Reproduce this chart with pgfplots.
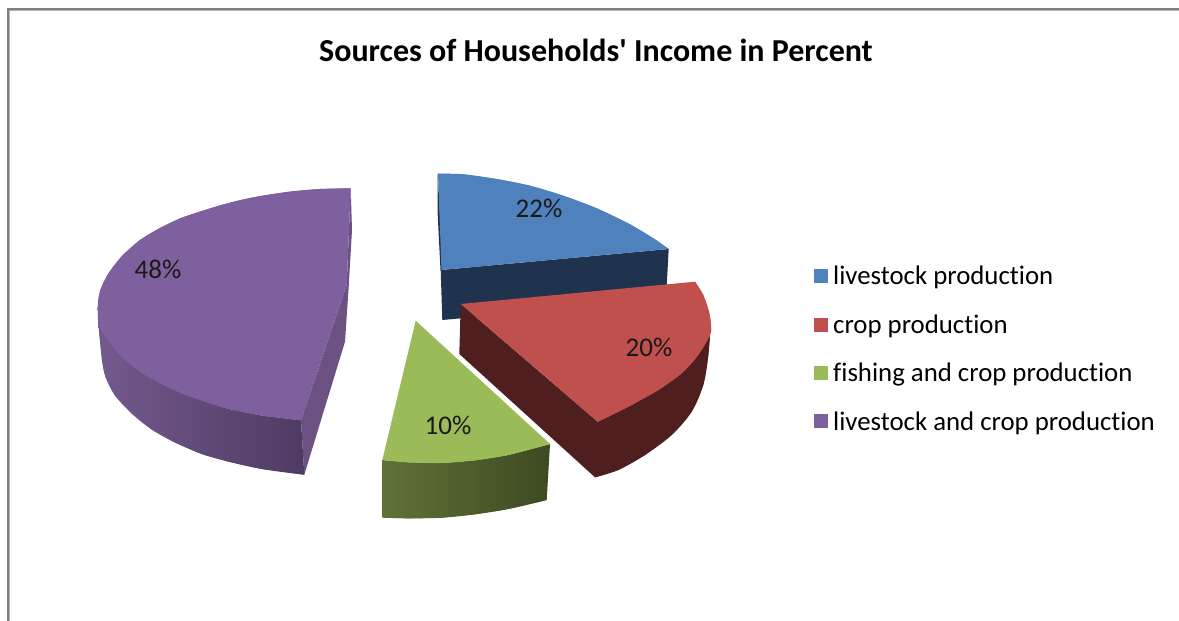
\documentclass[border=0pt]{standalone}
\usepackage{fontspec}
\setmainfont{Carlito}[Ligatures={TeXOff,NoCommon}]
\usepackage{pgfplots}
\pgfplotsset{compat=1.18}
\definecolor{blueTop}{HTML}{4F81BD}
\definecolor{blueWall}{HTML}{1F334F}
\definecolor{redTop}{HTML}{C0504D}
\definecolor{redWall}{HTML}{4E1F1E}
\definecolor{greenTop}{HTML}{9BBB59}
\definecolor{greenL}{HTML}{5F7236}
\definecolor{greenR}{HTML}{3E4A22}
\definecolor{purpleTop}{HTML}{7F609E}
\definecolor{purpleEdge}{HTML}{6B5283}
\definecolor{purpleL}{HTML}{735A8E}
\definecolor{purpleR}{HTML}{4E3B61}
\begin{document}
\begin{tikzpicture}
\begin{axis}[
  scale only axis, width=1179pt, height=621pt,
  xmin=0, xmax=1179, ymin=0, ymax=621, y dir=reverse,
  hide axis, clip=true,
  every axis title shift=0pt,
  title={\bfseries Sources of Households' Income in Percent},
  title style={at={(axis cs:596,50)}, anchor=center, font=\fontsize{32}{36}\selectfont, text=black},
  legend image code/.code={\fill[#1] (-2pt,-7pt) rectangle (12pt,7pt);},
  legend style={at={(axis cs:814,264)}, anchor=north west, draw=none, fill=none,
    font=\fontsize{26.8}{30}\selectfont, row sep=24.3pt,
    inner xsep=0pt, inner ysep=0pt, cells={anchor=west},
    nodes={inner ysep=2pt, inner xsep=5pt}},
  every axis plot/.append style={draw=none, sharp plot},
  curve/.style={smooth, tension=0.55},
]
% page background
\addplot[forget plot, fill=white] coordinates {(0,0) (1179,0) (1179,621) (0,621)};
% chart frame, open to the right and at the bottom
\addplot[forget plot, draw=gray!60, line width=1.2pt] coordinates {(9.5,621) (9.5,10.5) (1179,10.5)};
\addplot[forget plot, draw=gray, line width=2pt] coordinates {(8,621) (8,9) (1179,9)};

% livestock production: wall, sliver, top
\addplot[forget plot, fill=blueWall] coordinates
 {(440.7,270) (668.7,249) (666.7,286) (666,300) (442.3,320)};
\addplot[forget plot, fill=blueWall] coordinates
 {(437.7,173.7) (437.7,215) (440.5,270) (443,270) (440,215)};
\addplot[forget plot, fill=blueTop, curve] coordinates
 {(438,173.7) (463.3,174.3) (496.7,179) (530,185.7) (563.3,195.7) (596.7,208.3) (630,224.3) (653.3,238.3) (668.7,249)};
\addplot[fill=blueTop] coordinates
 {(438,173.7) (463.3,174.3) (496.7,179) (530,185.7) (563.3,195.7) (596.7,208.3) (630,224.3) (653.3,238.3) (668.7,249) (441.5,270)};
\addlegendentry{livestock production}

% crop production: wall and top
\addplot[forget plot, fill=redWall] coordinates
 {(460.7,304) (597.7,421.7) (628.3,406.7) (658.3,390) (681.7,373.3) (698.3,355) (710,335) (708,358) (703.3,385) (691.7,411.7) (671.7,435) (645,455) (618.3,470) (595,477.3) (459.3,354)};
\addplot[forget plot, fill=redWall, curve] coordinates
 {(710,335) (708,358) (703.3,385) (691.7,411.7) (671.7,435) (645,455) (618.3,470) (595,477.3)};
\addplot[forget plot, fill=redTop, curve] coordinates
 {(695,281.7) (703.3,295) (709,311.7) (711,325) (710,335) (698.3,355) (681.7,373.3) (658.3,390) (628.3,406.7) (597.7,421.7)};
\addplot[fill=redTop] coordinates
 {(460.7,304) (695,281.7) (703.3,295) (709,311.7) (711,325) (710,335) (698.3,355) (681.7,373.3) (658.3,390) (628.3,406.7) (597.7,421.7)};
\addlegendentry{crop production}

% fishing and crop production: wall and top
\addplot[forget plot, left color=greenL, right color=greenR, curve] coordinates
 {(546.7,500) (508.3,509) (475,514.3) (441.7,517.7) (408.3,518.3) (382.3,517.7)};
\addplot[forget plot, left color=greenL, right color=greenR] coordinates
 {(382.3,460) (408.3,462.3) (441.7,463) (475,460.3) (508.3,455) (550,444) (546.7,500) (508.3,509) (475,514.3) (441.7,517.7) (408.3,518.3) (382.3,517.7)};
\addplot[forget plot, fill=greenTop, curve] coordinates
 {(550,444) (508.3,455) (475,460.3) (441.7,463) (408.3,462.3) (382.3,460)};
\addplot[fill=greenTop] coordinates
 {(415.7,320.7) (550,444) (508.3,455) (475,460.3) (441.7,463) (408.3,462.3) (382.3,460)};
\addlegendentry{fishing and crop production}

% livestock and crop production: walls and top
\addplot[forget plot, fill=purpleEdge] coordinates
 {(350.7,188.3) (352,230) (348.7,286.7) (345,341.7) (304.3,474.7) (301,420) (346.7,285)};
\addplot[forget plot, left color=purpleL, right color=purpleR, curve] coordinates
 {(98,320) (102,360) (105.7,377.5) (115,395.5) (131.7,413.5) (151.7,429.5) (175,442.5) (201.7,454) (228,461.5) (261.7,469) (304.3,474.7)};
\addplot[forget plot, left color=purpleL, right color=purpleR] coordinates
 {(97.7,308) (100,329) (108,340.7) (122,357) (140,371.6) (160,383.4) (181,393) (200,400) (228,408.8) (261.7,415.5) (301,420.3) (304.3,474.7) (261.7,469) (228,461.5) (201.7,454) (175,442.5) (151.7,429.5) (131.7,413.5) (115,395.5) (105.7,377.5) (102,360) (98,320)};
\addplot[forget plot, fill=purpleTop, curve] coordinates
 {(350.7,188.3) (320,189) (290,191.6) (260,196.1) (240,200.2) (220,205.4) (200,211.6) (181,218) (160,228) (140,240) (122,256) (108,274) (100,291) (97.7,308) (100,327) (108,340.7) (122,357) (140,371.6) (160,383.4) (181,393) (200,400) (228,408.8) (261.7,415.5) (301,420.3)};
\addplot[fill=purpleTop] coordinates
 {(350.7,188.3) (320,189) (290,191.6) (260,196.1) (240,200.2) (220,205.4) (200,211.6) (181,218) (160,228) (140,240) (122,256) (108,274) (100,291) (97.7,308) (100,327) (108,340.7) (122,357) (140,371.6) (160,383.4) (181,393) (200,400) (228,408.8) (261.7,415.5) (301,420.3) (346.7,285)};
\addlegendentry{livestock and crop production}

% slice percentages
\node[font=\fontsize{27}{30}\selectfont, text=black!90] at (axis cs:539,208) {22\%};
\node[font=\fontsize{27}{30}\selectfont, text=black!90] at (axis cs:649,347) {20\%};
\node[font=\fontsize{27}{30}\selectfont, text=black!90] at (axis cs:448,425) {10\%};
\node[font=\fontsize{27}{30}\selectfont, text=black!90] at (axis cs:158,269) {48\%};
\end{axis}
\end{tikzpicture}
\end{document}
